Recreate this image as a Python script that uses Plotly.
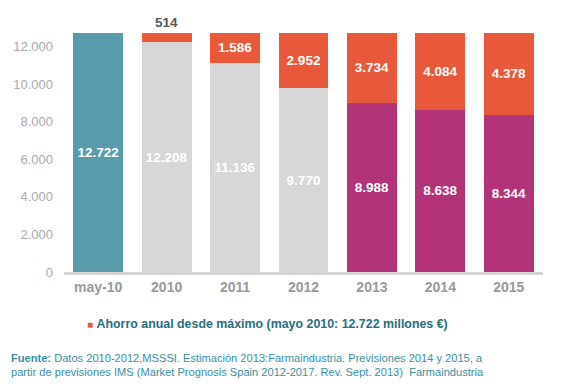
import plotly.graph_objects as go

categories = ["may-10", "2010", "2011", "2012", "2013", "2014", "2015"]
base_values = [12722, 12208, 11136, 9770, 8988, 8638, 8344]
savings = [None, 514, 1586, 2952, 3734, 4084, 4378]
tick_vals = [0, 2000, 4000, 6000, 8000, 10000, 12000]

TEAL = "#5a9bab"
GREY = "#d7d7d7"
RED = "#e8583b"
MAGENTA = "#b33378"
FONT = "Liberation Sans, Arial"

def fmt(v):
    return f"{v:,}".replace(",", ".")

base_colors = [TEAL, GREY, GREY, GREY, MAGENTA, MAGENTA, MAGENTA]

fig = go.Figure()
fig.add_trace(go.Bar(
    x=categories, y=base_values,
    marker=dict(color=base_colors, line=dict(width=0)),
    text=[fmt(v) for v in base_values],
    textposition="inside", insidetextanchor="middle",
    textfont=dict(color="white", size=13.5, family=FONT, weight="bold"),
    showlegend=False, hoverinfo="skip", width=0.73,
))
sav_text = [("" if (v is None or v < 1000) else fmt(v)) for v in savings]
fig.add_trace(go.Bar(
    x=categories, y=savings,
    marker=dict(color=RED, line=dict(width=0)),
    text=sav_text,
    textposition="inside", insidetextanchor="middle",
    textfont=dict(color="white", size=13.5, family=FONT, weight="bold"),
    showlegend=False, hoverinfo="skip", width=0.73,
    name="Ahorro anual desde máximo (mayo 2010: 12.722 millones €)",
))

# small saving value shown above its bar
for i, v in enumerate(savings):
    if v is not None and v < 1000:
        fig.add_annotation(
            x=i, y=base_values[i] + v, text=fmt(v),
            showarrow=False, yanchor="bottom", yshift=1,
            font=dict(color="#555555", size=13.5, family=FONT, weight="bold"),
        )

# page has an 8px body margin; figure origin is at (8, 8) in the page
OFF = 8
W, H = 563 - OFF, 387 - OFF
ml, mr, mt, mb = 64 - OFF, 20, 20 - OFF, 115
pw = W - ml - mr
ph = H - mt - mb

def px_to_paper_x(px):
    return (px - OFF - ml) / pw

def py_to_paper_y(py):
    return (H - mb - (py - OFF)) / ph

# legend
fig.add_annotation(
    xref="paper", yref="paper",
    x=px_to_paper_x(85), y=py_to_paper_y(324), xanchor="left", yanchor="middle",
    text=f"<span style='color:{RED};font-size:10px'>■</span> <b>Ahorro anual desde máximo (mayo 2010: 12.722 millones €)</b>",
    showarrow=False,
    font=dict(color="#2a6d7d", size=12.4, family=FONT),
)
# footer
fig.add_annotation(
    xref="paper", yref="paper",
    x=px_to_paper_x(9), y=py_to_paper_y(365), xanchor="left", yanchor="middle",
    align="left",
    text="<b>Fuente:</b> Datos 2010-2012,MSSSI. Estimación 2013:Farmaindustria. Previsiones 2014 y 2015, a<br>"
         "partir de previsiones IMS (Market Prognosis Spain 2012-2017. Rev. Sept. 2013)  Farmaindustria",
    showarrow=False,
    font=dict(color="#3a8ea0", size=11.1, family=FONT),
)

fig.update_layout(
    width=W, height=H,
    margin=dict(l=ml, r=mr, t=mt, b=mb, autoexpand=False),
    barmode="stack", bargap=0.27,
    plot_bgcolor="white", paper_bgcolor="white",
    separators=",.",
    uniformtext=dict(minsize=13, mode="show"),
    font=dict(family=FONT),
)
fig.update_yaxes(
    range=[0, 13404], tickvals=tick_vals, tickformat=",d", automargin=False,
    showgrid=False, zeroline=False, showline=False,
    tickfont=dict(color="#aaaaaa", size=13), ticklabelstandoff=10,
)
fig.update_xaxes(
    type="category", automargin=False,
    showgrid=False, showline=True, linecolor="#d3d3d3", linewidth=3,
    tickfont=dict(color="#999999", size=14, weight="bold"),
    ticks="", range=[-0.5, 6.5],
)

fig.write_html("out.html")
